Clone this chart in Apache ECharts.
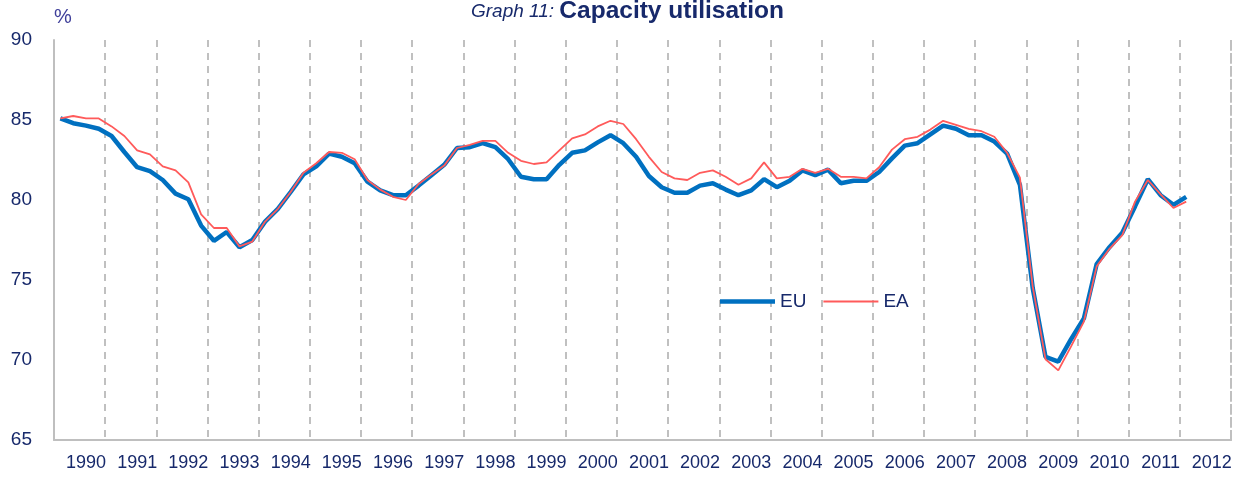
<!DOCTYPE html>
<html>
<meta charset="UTF-8">
<title>capacity-utilisation</title>
<style type="text/css">
    html,
    body {
        margin: 0px;
        height: 100%;
        width: 100%;
        background: #fff;
    }

    #chart {
        width: 1247px;
        height: 480px;
    }
</style>
<script src="https://cdn.jsdelivr.net/npm/echarts@6/dist/echarts.min.js"></script>

<body>
    <div id="chart"></div>
    <script>
        // years on the axis, each split into four quarters
        const years = [1990, 1991, 1992, 1993, 1994, 1995, 1996, 1997, 1998, 1999, 2000, 2001,
            2002, 2003, 2004, 2005, 2006, 2007, 2008, 2009, 2010, 2011, 2012];
        const quarters = ['Q1', 'Q2', 'Q3', 'Q4'];

        // capacity utilisation, % (1990Q1 .. 2012Q1)
        const eu = [
            85.1, 84.8, 84.65, 84.45, 84.0, 83.0, 82.05, 81.8, 81.25, 80.4,
            80.05, 78.4, 77.45, 78.0, 77.05, 77.5, 78.65, 79.45, 80.5, 81.6,
            82.1, 82.9, 82.7, 82.3, 81.15, 80.6, 80.3, 80.3, 80.9, 81.55,
            82.2, 83.25, 83.3, 83.55, 83.3, 82.55, 81.45, 81.3, 81.3, 82.2,
            82.95, 83.1, 83.6, 84.05, 83.55, 82.7, 81.5, 80.8, 80.45, 80.45,
            80.9, 81.05, 80.65, 80.3, 80.6, 81.3, 80.8, 81.2, 81.85, 81.55,
            81.9, 81.05, 81.2, 81.2, 81.75, 82.6, 83.4, 83.55, 84.1, 84.65,
            84.45, 84.05, 84.05, 83.65, 82.9, 80.95, 74.5, 70.2, 69.9, 71.3,
            72.6, 76.0, 77.05, 77.95, 79.6, 81.3, 80.3, 79.7, 80.2
        ];
        const ea = [
            85.1, 85.25, 85.1, 85.1, 84.6, 84.0, 83.1, 82.85, 82.1, 81.85,
            81.1, 79.1, 78.25, 78.25, 77.1, 77.4, 78.65, 79.45, 80.5, 81.7,
            82.3, 83.0, 82.95, 82.55, 81.25, 80.65, 80.2, 80.0, 81.0, 81.6,
            82.15, 83.25, 83.45, 83.7, 83.7, 82.95, 82.45, 82.25, 82.35, 83.1,
            83.85, 84.1, 84.6, 84.95, 84.75, 83.8, 82.7, 81.75, 81.35, 81.25,
            81.7, 81.85, 81.45, 80.95, 81.35, 82.35, 81.35, 81.45, 81.95, 81.7,
            81.95, 81.45, 81.45, 81.35, 82.05, 83.15, 83.8, 83.95, 84.4, 84.95,
            84.7, 84.45, 84.3, 83.95, 82.95, 81.4, 74.6, 70.05, 69.35, 70.85,
            72.4, 75.85, 76.95, 77.8, 79.9, 81.25, 80.35, 79.5, 79.9
        ];

        const categories = [];
        years.forEach(y => quarters.forEach(q => categories.push(y + q)));

        const navy = '#17296b';
        const font = '"Liberation Sans", Arial, sans-serif';
        const gridDash = { color: '#c0c0c0', width: 2, type: [7, 6] };

        const chart = echarts.init(document.querySelector('#chart'));
        const options = {
            animation: false,
            textStyle: { fontFamily: font },
            title: {
                text: '{a|Graph 11: }{b|Capacity utilisation}',
                left: 466,
                top: -6,
                textStyle: {
                    rich: {
                        a: { fontFamily: font, fontStyle: 'italic', fontWeight: 'normal', fontSize: 19, color: navy },
                        b: { fontFamily: font, fontWeight: 'bold', fontSize: 24.5, color: navy }
                    }
                }
            },
            graphic: [{
                type: 'text',
                left: 54,
                top: 7,
                style: { text: '%', fontSize: 20, fill: '#3f3f9a', fontFamily: font }
            }],
            legend: {
                data: [
                    { name: 'EU', icon: 'path://M0,0L55,0L55,4.5L0,4.5Z' },
                    { name: 'EA', icon: 'path://M0,0L55,0L55,1.8L0,1.8Z' }
                ],
                left: 715,
                top: 287,
                itemWidth: 55,
                itemHeight: 16,
                itemGap: 17,
                textStyle: { fontSize: 19, color: navy, fontFamily: font }
            },
            grid: { left: 54, right: 16, top: 40, bottom: 40 },
            xAxis: {
                type: 'category',
                data: categories,
                boundaryGap: true,
                axisLine: { lineStyle: { color: '#bfbfbf', width: 2 } },
                axisTick: { show: false },
                axisLabel: {
                    interval: (index) => index % 4 === 2,
                    formatter: (v) => v.slice(0, 4),
                    fontSize: 18,
                    color: navy,
                    margin: 14
                },
                splitLine: {
                    show: true,
                    interval: 3,
                    lineStyle: gridDash
                }
            },
            yAxis: [
                {
                    type: 'value',
                    min: 65,
                    max: 90,
                    interval: 5,
                    axisLine: { show: true, lineStyle: { color: '#bfbfbf', width: 2 } },
                    axisTick: { show: false },
                    splitLine: { show: false },
                    axisLabel: { fontSize: 19, color: navy, margin: 22 }
                },
                {
                    // dashed boundary at the right edge of the last year
                    type: 'value',
                    position: 'right',
                    min: 65,
                    max: 90,
                    axisLine: { show: true, lineStyle: gridDash },
                    axisTick: { show: false },
                    axisLabel: { show: false },
                    splitLine: { show: false }
                }
            ],
            series: [
                {
                    name: 'EU',
                    type: 'line',
                    data: eu,
                    symbol: 'none',
                    color: '#0070c0',
                    lineStyle: { width: 4.5, color: '#0070c0' }
                },
                {
                    name: 'EA',
                    type: 'line',
                    data: ea,
                    symbol: 'none',
                    color: '#ff5a5a',
                    lineStyle: { width: 1.8, color: '#ff5a5a' }
                }
            ]
        };
        chart.setOption(options);
    </script>
</body>

</html>
